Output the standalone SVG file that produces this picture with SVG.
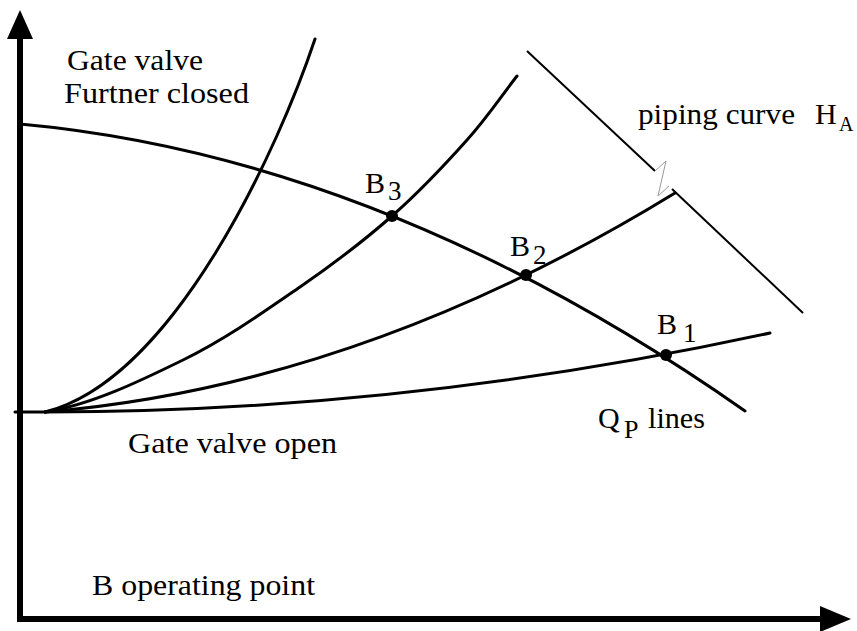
<svg xmlns="http://www.w3.org/2000/svg" width="857" height="631" viewBox="0 0 857 631">
<style>
text{font-family:"Liberation Serif","Times New Roman",serif;fill:#000;font-size:30px}
.sub{font-size:27px}
.c{fill:none;stroke:#000;stroke-width:3;stroke-linecap:round}
.t{fill:none;stroke:#000;stroke-width:2}
.ax{fill:none;stroke:#000;stroke-width:6}
</style>
<rect width="857" height="631" fill="#fff"/>
<g id="axes">
<line class="ax" x1="20" y1="622" x2="20" y2="36"/>
<polygon points="20,10 7,39 33,39" fill="#000"/>
<line class="ax" x1="17" y1="619" x2="824" y2="619"/>
<polygon points="851,619 820,606 820,632" fill="#000"/>
</g>
<g id="connectors">
<path id="pump-curve" class="c" d="M20,124 Q382.5,157 745,411"/>
<path id="pipe-open" class="c" d="M15,412 L45,412 Q407.5,412 770,333"/>
<path id="pipe-b2" class="c" d="M45,412 Q360,386 675,193"/>
<path id="pipe-b3" class="c" d="M45,412 C91,405 140.5,380.8 183,360 C225.5,339.2 265.2,311 300,287 C334.8,263 364.2,240.5 392,216 C419.8,191.5 446.2,163.3 467,140 C487.8,116.7 500.3,97.3 517,76"/>
<path id="pipe-closed" class="c" d="M45,412 C175,379.5 280,144 315,39"/>
<line class="t" x1="527" y1="51" x2="655" y2="171"/>
<polyline points="655,171 666,161 658,196 669,186" fill="none" stroke="#999" stroke-width="1"/>
<line class="t" x1="672" y1="189" x2="803" y2="313"/>
</g>
<g id="B3">
<circle cx="392" cy="216" r="6"/>
<text x="365" y="193">B</text><text class="sub" x="388" y="200">3</text>
</g>
<g id="B2">
<circle cx="526" cy="275" r="6"/>
<text x="510" y="256">B</text><text class="sub" x="533" y="264">2</text>
</g>
<g id="B1">
<circle cx="666" cy="355" r="6"/>
<text x="657" y="334">B</text><text class="sub" x="683" y="342">1</text>
</g>
<g id="labels">
<text x="67" y="70" textLength="136" lengthAdjust="spacingAndGlyphs">Gate valve</text>
<text x="64" y="103" textLength="185" lengthAdjust="spacingAndGlyphs">Furtner closed</text>
<text x="638" y="124" textLength="157" lengthAdjust="spacingAndGlyphs">piping curve</text>
<text x="815" y="124">H</text><text x="839" y="131" style="font-size:20px">A</text>
<text x="598" y="428">Q</text><text x="624" y="438" style="font-size:26px">P</text>
<text x="648" y="428" textLength="57" lengthAdjust="spacingAndGlyphs">lines</text>
<text x="128" y="453" textLength="209" lengthAdjust="spacingAndGlyphs">Gate valve open</text>
<text x="92" y="595" textLength="223" lengthAdjust="spacingAndGlyphs">B operating point</text>
</g>
</svg>
